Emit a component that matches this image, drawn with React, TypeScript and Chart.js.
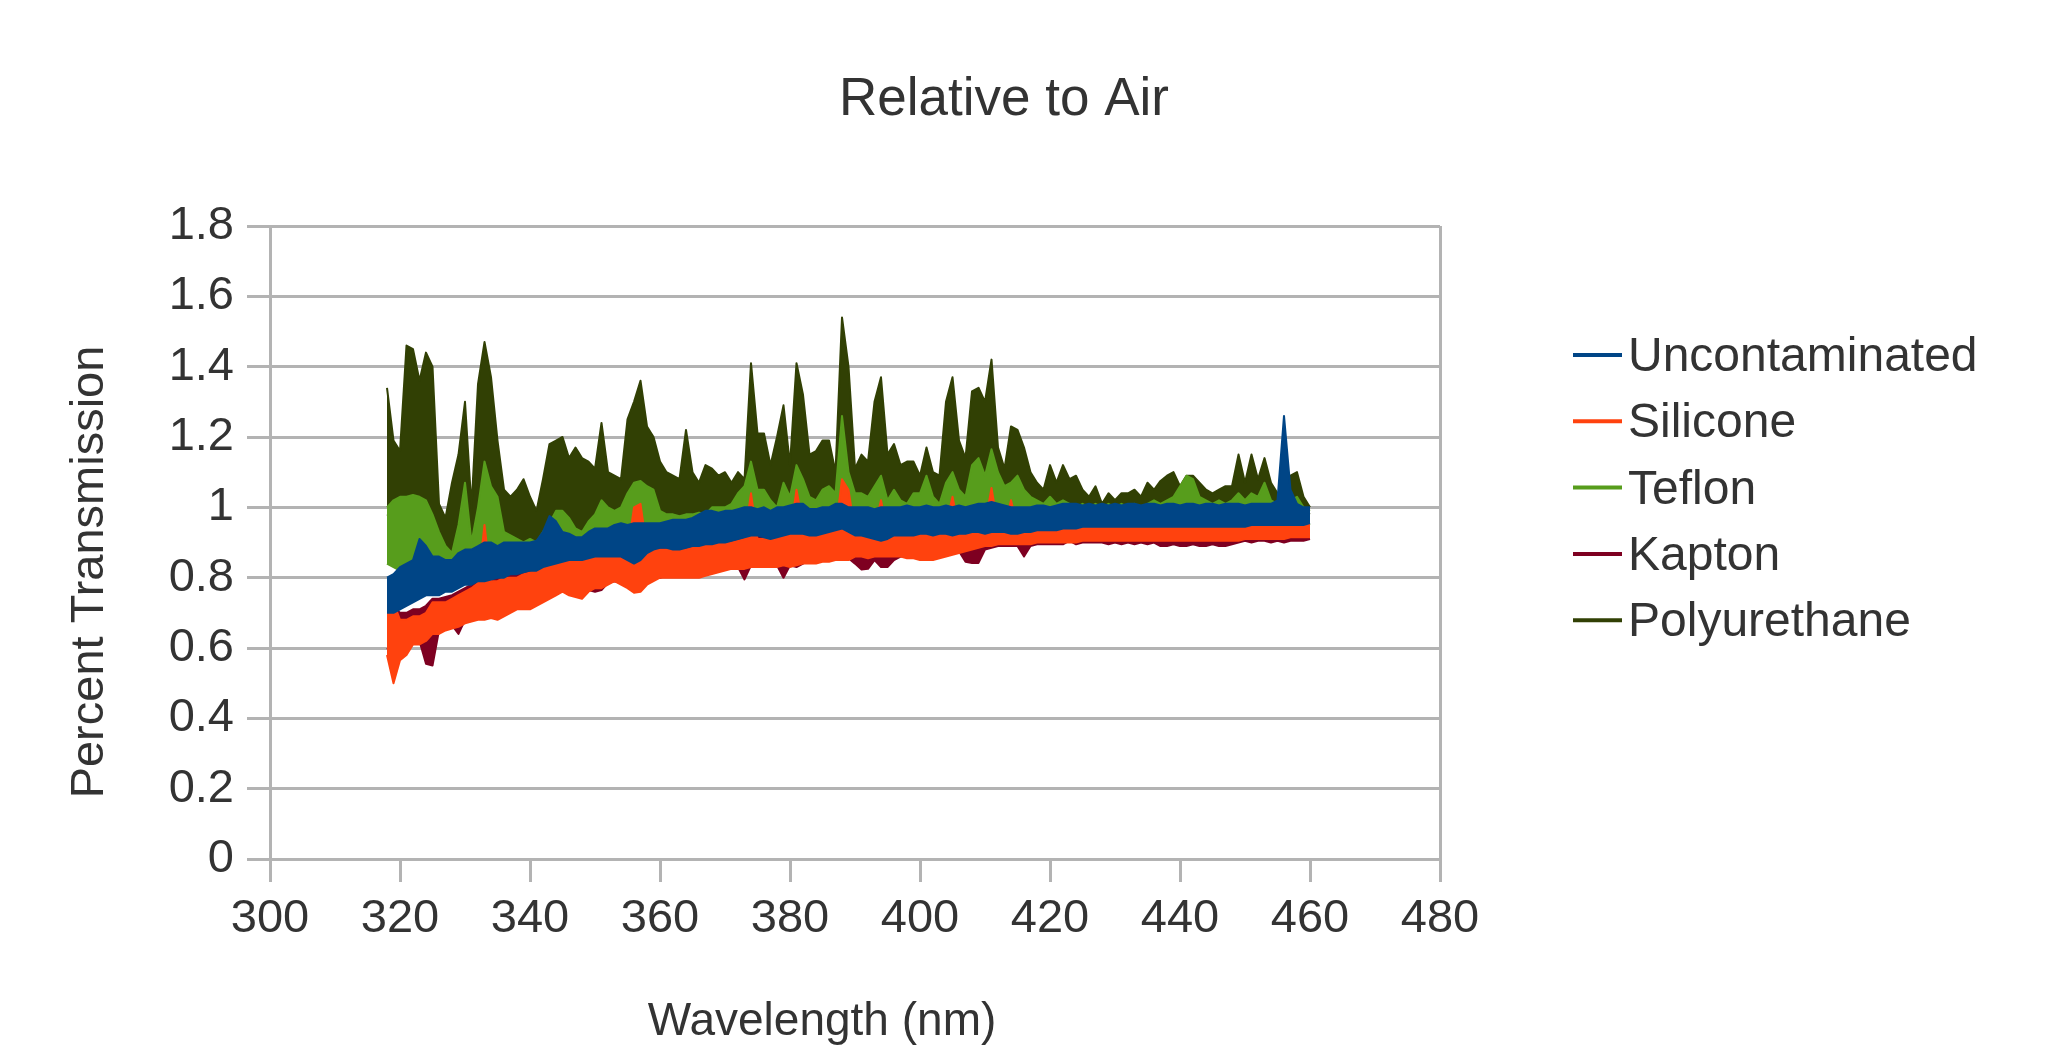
import { useEffect, useRef } from "react";
import { Chart, registerables } from "chart.js";

Chart.register(...registerables);

// ---------- data ----------
const START_NM = 318;
const TITLE = "Relative to Air";
const X_TITLE = "Wavelength (nm)";
const Y_TITLE = "Percent Transmission";
const SERIES_NAMES = ["Uncontaminated", "Silicone", "Teflon", "Kapton", "Polyurethane"];
const SERIES_COLORS = ["#004586", "#ff420e", "#579d1c", "#7e0021", "#314004"];
const X_TICK_LABELS = ["300", "320", "340", "360", "380", "400", "420", "440", "460", "480"];
const Y_TICK_LABELS = ["0", "0.2", "0.4", "0.6", "0.8", "1", "1.2", "1.4", "1.6", "1.8"];

// upper / lower edge of each noisy trace, 1 nm steps from 318 nm to 460 nm
const UNCONT_HI = [
  0.80, 0.81, 0.83, 0.84, 0.85, 0.91, 0.89, 0.86, 0.86, 0.85,
  0.85, 0.87, 0.88, 0.88, 0.89, 0.90, 0.90, 0.89, 0.90, 0.90,
  0.90, 0.90, 0.90, 0.905, 0.93, 0.975, 0.96, 0.93, 0.925, 0.915,
  0.915, 0.93, 0.94, 0.94, 0.94, 0.95, 0.955, 0.95, 0.955, 0.955,
  0.955, 0.955, 0.955, 0.96, 0.965, 0.965, 0.965, 0.97, 0.98, 0.99,
  0.99, 0.985, 0.99, 0.99, 0.995, 1.00, 1.00, 0.995, 1.00, 0.99,
  1.00, 1.00, 1.005, 1.01, 1.01, 0.995, 0.995, 1.00, 1.00, 1.01,
  1.01, 1.00, 1.00, 1.00, 1.00, 0.995, 1.00, 1.00, 1.00, 1.00,
  1.005, 1.00, 1.00, 1.005, 1.00, 1.00, 1.005, 1.00, 1.005, 1.00,
  1.005, 1.01, 1.01, 1.015, 1.01, 1.005, 1.00, 1.00, 1.00, 1.00,
  1.005, 1.005, 1.00, 1.005, 1.01, 1.01, 1.01, 1.005, 1.01, 1.005,
  1.01, 1.005, 1.01, 1.005, 1.01, 1.01, 1.005, 1.01, 1.01, 1.005,
  1.01, 1.01, 1.005, 1.01, 1.01, 1.005, 1.01, 1.01, 1.005, 1.01,
  1.01, 1.01, 1.005, 1.01, 1.01, 1.01, 1.01, 1.02, 1.26, 1.05,
  1.01, 1.00, 1.00,
];
const UNCONT_LO = [
  0.70, 0.70, 0.71, 0.72, 0.73, 0.74, 0.75, 0.75, 0.75, 0.76,
  0.76, 0.77, 0.78, 0.78, 0.79, 0.79, 0.795, 0.80, 0.80, 0.81,
  0.81, 0.815, 0.82, 0.82, 0.83, 0.835, 0.84, 0.845, 0.85, 0.85,
  0.85, 0.855, 0.86, 0.86, 0.86, 0.86, 0.86, 0.85, 0.84, 0.85,
  0.87, 0.88, 0.885, 0.885, 0.88, 0.88, 0.885, 0.89, 0.89, 0.895,
  0.895, 0.90, 0.90, 0.905, 0.91, 0.915, 0.92, 0.92, 0.915, 0.91,
  0.915, 0.92, 0.925, 0.925, 0.925, 0.92, 0.92, 0.925, 0.93, 0.935,
  0.94, 0.93, 0.92, 0.92, 0.915, 0.91, 0.905, 0.91, 0.92, 0.92,
  0.92, 0.92, 0.925, 0.925, 0.92, 0.925, 0.925, 0.92, 0.925, 0.925,
  0.93, 0.93, 0.925, 0.93, 0.93, 0.93, 0.925, 0.925, 0.93, 0.93,
  0.935, 0.935, 0.935, 0.935, 0.94, 0.94, 0.94, 0.945, 0.945, 0.945,
  0.945, 0.945, 0.945, 0.945, 0.945, 0.945, 0.945, 0.945, 0.945, 0.945,
  0.945, 0.945, 0.945, 0.945, 0.945, 0.945, 0.945, 0.945, 0.945, 0.945,
  0.945, 0.945, 0.945, 0.95, 0.95, 0.95, 0.95, 0.95, 0.95, 0.95,
  0.95, 0.95, 0.955,
];
const SILICONE_HI = [
  0.73, 0.73, 0.68, 0.68, 0.69, 0.69, 0.70, 0.73, 0.73, 0.73,
  0.74, 0.75, 0.76, 0.77, 0.785, 0.95, 0.79, 0.79, 0.80, 0.80,
  0.80, 0.81, 0.815, 0.82, 0.83, 0.84, 0.84, 0.85, 0.85, 0.85,
  0.85, 0.86, 0.86, 0.865, 0.87, 0.87, 0.86, 0.87, 1.00, 1.01,
  0.88, 0.88, 0.88, 0.88, 0.88, 0.88, 0.88, 0.885, 0.89, 0.89,
  0.895, 0.90, 0.90, 0.90, 0.905, 0.91, 1.04, 0.91, 0.91, 0.91,
  0.93, 0.94, 0.92, 1.05, 0.95, 0.92, 0.92, 0.925, 0.93, 0.93,
  1.08, 1.05, 0.93, 0.93, 0.93, 0.94, 1.02, 0.93, 0.93, 0.93,
  0.93, 0.93, 0.935, 0.935, 0.935, 0.94, 0.95, 1.03, 0.94, 0.94,
  0.94, 0.945, 0.95, 1.055, 0.945, 0.94, 1.02, 0.945, 0.945, 0.945,
  0.945, 0.945, 0.95, 0.95, 0.95, 0.95, 0.95, 0.955, 0.955, 0.955,
  0.955, 0.955, 0.955, 0.955, 0.955, 0.955, 0.955, 0.955, 0.955, 0.955,
  0.955, 0.955, 0.955, 0.955, 0.955, 0.955, 0.955, 0.955, 0.955, 0.955,
  0.955, 0.955, 0.955, 0.955, 0.96, 0.96, 0.96, 0.96, 0.96, 0.96,
  0.96, 0.96, 0.96,
];
const SILICONE_LO = [
  0.58, 0.50, 0.565, 0.58, 0.61, 0.61, 0.62, 0.64, 0.64, 0.65,
  0.655, 0.66, 0.67, 0.675, 0.68, 0.68, 0.685, 0.68, 0.69, 0.70,
  0.71, 0.71, 0.71, 0.72, 0.73, 0.74, 0.75, 0.76, 0.75, 0.745,
  0.74, 0.76, 0.77, 0.77, 0.78, 0.79, 0.78, 0.77, 0.757, 0.76,
  0.78, 0.79, 0.80, 0.80, 0.80, 0.80, 0.80, 0.80, 0.80, 0.805,
  0.81, 0.815, 0.82, 0.825, 0.825, 0.825, 0.83, 0.83, 0.83, 0.83,
  0.83, 0.835, 0.83, 0.835, 0.84, 0.84, 0.84, 0.845, 0.845, 0.85,
  0.85, 0.85, 0.86, 0.86, 0.855, 0.86, 0.86, 0.86, 0.86, 0.86,
  0.855, 0.855, 0.85, 0.85, 0.85, 0.855, 0.86, 0.865, 0.87, 0.875,
  0.88, 0.885, 0.89, 0.89, 0.895, 0.895, 0.895, 0.895, 0.895, 0.895,
  0.90, 0.90, 0.90, 0.90, 0.90, 0.90, 0.90, 0.905, 0.905, 0.905,
  0.905, 0.905, 0.905, 0.905, 0.905, 0.905, 0.905, 0.905, 0.905, 0.905,
  0.905, 0.905, 0.905, 0.905, 0.905, 0.905, 0.905, 0.905, 0.905, 0.905,
  0.905, 0.905, 0.91, 0.91, 0.91, 0.91, 0.91, 0.91, 0.91, 0.915,
  0.915, 0.915, 0.915,
];
const TEFLON_HI = [
  1.00, 1.02, 1.03, 1.03, 1.035, 1.03, 1.02, 0.98, 0.93, 0.89,
  0.87, 0.95, 1.07, 0.90, 1.00, 1.13, 1.06, 1.03, 0.93, 0.92,
  0.91, 0.90, 0.91, 0.90, 0.93, 0.955, 0.99, 0.99, 0.97, 0.94,
  0.93, 0.96, 0.98, 1.02, 1.00, 0.99, 1.00, 1.04, 1.07, 1.075,
  1.06, 1.05, 0.99, 0.98, 0.98, 0.975, 0.98, 0.98, 0.985, 0.98,
  1.00, 1.00, 1.00, 1.01, 1.04, 1.06, 1.13, 1.05, 1.05, 1.02,
  1.00, 1.07, 1.03, 1.12, 1.08, 1.03, 1.02, 1.05, 1.06, 1.04,
  1.26, 1.10, 1.04, 1.04, 1.03, 1.06, 1.09, 1.02, 1.05, 1.02,
  1.01, 1.04, 1.04, 1.09, 1.03, 1.01, 1.07, 1.10, 1.05, 1.03,
  1.12, 1.14, 1.09, 1.165, 1.10, 1.06, 1.07, 1.09, 1.05, 1.03,
  1.02, 1.01, 1.03, 1.01, 1.02, 1.01, 1.00, 1.01, 1.00, 1.01,
  1.00, 1.01, 1.00, 1.01, 1.00, 1.01, 1.00, 1.01, 1.02, 1.01,
  1.02, 1.03, 1.06, 1.09, 1.08, 1.03, 1.02, 1.01, 1.02, 1.01,
  1.02, 1.04, 1.02, 1.04, 1.03, 1.07, 1.02, 1.01, 1.00, 1.02,
  1.03, 1.00, 0.99,
];
const TEFLON_LO = [
  0.84, 0.83, 0.82, 0.83, 0.84, 0.85, 0.85, 0.83, 0.82, 0.82,
  0.82, 0.83, 0.84, 0.84, 0.85, 0.86, 0.86, 0.85, 0.86, 0.86,
  0.86, 0.86, 0.86, 0.87, 0.89, 0.93, 0.92, 0.89, 0.88, 0.87,
  0.87, 0.89, 0.90, 0.90, 0.90, 0.91, 0.91, 0.91, 0.91, 0.91,
  0.91, 0.91, 0.91, 0.92, 0.92, 0.92, 0.92, 0.93, 0.94, 0.95,
  0.95, 0.94, 0.95, 0.95, 0.95, 0.96, 0.96, 0.95, 0.96, 0.95,
  0.96, 0.96, 0.96, 0.97, 0.97, 0.95, 0.95, 0.96, 0.96, 0.97,
  0.97, 0.96, 0.96, 0.96, 0.96, 0.95, 0.96, 0.96, 0.96, 0.96,
  0.96, 0.96, 0.96, 0.96, 0.96, 0.96, 0.96, 0.96, 0.96, 0.96,
  0.96, 0.97, 0.97, 0.97, 0.97, 0.96, 0.96, 0.96, 0.96, 0.96,
  0.96, 0.96, 0.96, 0.96, 0.97, 0.97, 0.97, 0.96, 0.96, 0.96,
  0.96, 0.96, 0.96, 0.96, 0.96, 0.96, 0.96, 0.96, 0.96, 0.96,
  0.96, 0.96, 0.96, 0.97, 0.97, 0.96, 0.96, 0.96, 0.96, 0.96,
  0.96, 0.96, 0.96, 0.96, 0.96, 0.96, 0.96, 0.96, 0.96, 0.97,
  0.96, 0.96, 0.95,
];
const KAPTON_HI = [
  0.72, 0.72, 0.70, 0.70, 0.71, 0.71, 0.72, 0.74, 0.74, 0.745,
  0.75, 0.76, 0.77, 0.78, 0.795, 0.80, 0.80, 0.80, 0.81, 0.81,
  0.81, 0.82, 0.825, 0.83, 0.84, 0.85, 0.85, 0.86, 0.86, 0.86,
  0.86, 0.87, 0.87, 0.875, 0.88, 0.88, 0.87, 0.88, 0.89, 0.89,
  0.89, 0.89, 0.89, 0.89, 0.89, 0.89, 0.89, 0.895, 0.90, 0.90,
  0.905, 0.91, 0.91, 0.91, 0.915, 0.92, 0.92, 0.92, 0.92, 0.92,
  0.93, 0.935, 0.93, 0.935, 0.935, 0.93, 0.93, 0.935, 0.94, 0.94,
  0.94, 0.94, 0.94, 0.94, 0.94, 0.945, 0.945, 0.94, 0.94, 0.94,
  0.94, 0.94, 0.945, 0.945, 0.945, 0.95, 0.955, 0.95, 0.95, 0.95,
  0.95, 0.955, 0.96, 0.955, 0.955, 0.95, 0.955, 0.955, 0.955, 0.955,
  0.955, 0.955, 0.96, 0.96, 0.96, 0.96, 0.96, 0.965, 0.965, 0.965,
  0.965, 0.965, 0.965, 0.965, 0.965, 0.965, 0.965, 0.965, 0.965, 0.965,
  0.965, 0.965, 0.965, 0.965, 0.965, 0.965, 0.965, 0.965, 0.965, 0.965,
  0.965, 0.965, 0.965, 0.965, 0.97, 0.97, 0.97, 0.97, 0.97, 0.97,
  0.97, 0.97, 0.97,
];
const KAPTON_LO = [
  0.60, 0.58, 0.59, 0.60, 0.62, 0.62, 0.555, 0.55, 0.65, 0.66,
  0.665, 0.64, 0.68, 0.685, 0.69, 0.69, 0.695, 0.69, 0.70, 0.71,
  0.72, 0.72, 0.72, 0.73, 0.74, 0.75, 0.76, 0.765, 0.76, 0.755,
  0.75, 0.765, 0.76, 0.765, 0.785, 0.79, 0.785, 0.78, 0.77, 0.77,
  0.785, 0.80, 0.80, 0.805, 0.805, 0.805, 0.805, 0.805, 0.805, 0.81,
  0.815, 0.828, 0.825, 0.83, 0.83, 0.795, 0.835, 0.835, 0.842, 0.835,
  0.835, 0.80, 0.835, 0.83, 0.84, 0.85, 0.845, 0.85, 0.85, 0.855,
  0.855, 0.855, 0.84, 0.823, 0.825, 0.85, 0.83, 0.83, 0.85, 0.86,
  0.86, 0.86, 0.855, 0.86, 0.855, 0.86, 0.865, 0.87, 0.875, 0.845,
  0.842, 0.842, 0.88, 0.885, 0.89, 0.89, 0.89, 0.89, 0.86, 0.89,
  0.895, 0.895, 0.895, 0.895, 0.895, 0.905, 0.895, 0.90, 0.90, 0.90,
  0.90, 0.895, 0.90, 0.895, 0.90, 0.895, 0.90, 0.895, 0.90, 0.89,
  0.89, 0.895, 0.89, 0.89, 0.895, 0.89, 0.89, 0.895, 0.89, 0.89,
  0.895, 0.90, 0.905, 0.90, 0.905, 0.905, 0.90, 0.905, 0.90, 0.905,
  0.905, 0.905, 0.91,
];
const POLY_HI = [
  1.34, 1.19, 1.16, 1.46, 1.45, 1.36, 1.44, 1.40, 1.01, 0.97,
  1.07, 1.15, 1.30, 1.00, 1.35, 1.47, 1.37, 1.19, 1.05, 1.03,
  1.05, 1.08, 1.03, 0.99, 1.08, 1.18, 1.19, 1.20, 1.14, 1.17,
  1.14, 1.13, 1.11, 1.24, 1.10, 1.09, 1.08, 1.25, 1.30, 1.36,
  1.23, 1.20, 1.13, 1.10, 1.09, 1.08, 1.22, 1.10, 1.07, 1.12,
  1.11, 1.09, 1.10, 1.07, 1.10, 1.08, 1.41, 1.21, 1.21, 1.12,
  1.20, 1.29, 1.12, 1.41, 1.32, 1.15, 1.16, 1.19, 1.19, 1.10,
  1.54, 1.40, 1.11, 1.15, 1.13, 1.30, 1.37, 1.15, 1.18, 1.12,
  1.13, 1.13, 1.09, 1.17, 1.10, 1.09, 1.30, 1.37, 1.19, 1.14,
  1.33, 1.34, 1.30, 1.42, 1.17, 1.11, 1.23, 1.22, 1.17, 1.10,
  1.07, 1.05, 1.12, 1.07, 1.12, 1.08, 1.09, 1.05, 1.03, 1.06,
  1.01, 1.04, 1.02, 1.04, 1.04, 1.05, 1.03, 1.07, 1.05, 1.075,
  1.09, 1.10, 1.06, 1.09, 1.09, 1.07, 1.05, 1.04, 1.05, 1.06,
  1.06, 1.15, 1.07, 1.15, 1.08, 1.14, 1.07, 1.04, 1.03, 1.09,
  1.10, 1.03, 1.00,
];
const POLY_LO = [
  0.98, 0.97, 0.98, 0.99, 0.99, 0.98, 0.97, 0.94, 0.90, 0.87,
  0.86, 0.90, 0.93, 0.89, 0.95, 0.98, 0.97, 0.96, 0.92, 0.91,
  0.91, 0.90, 0.90, 0.89, 0.92, 0.94, 0.96, 0.96, 0.94, 0.93,
  0.93, 0.94, 0.95, 0.96, 0.96, 0.96, 0.97, 0.98, 0.99, 1.00,
  0.99, 0.98, 0.97, 0.97, 0.97, 0.97, 0.97, 0.97, 0.98, 0.98,
  0.99, 0.99, 0.99, 1.00, 1.00, 1.00, 1.01, 1.00, 1.00, 0.99,
  1.00, 1.01, 1.01, 1.02, 1.02, 1.00, 1.00, 1.01, 1.01, 1.01,
  1.02, 1.01, 1.01, 1.01, 1.01, 1.01, 1.02, 1.01, 1.01, 1.01,
  1.00, 1.01, 1.01, 1.02, 1.01, 1.00, 1.02, 1.02, 1.01, 1.01,
  1.02, 1.02, 1.02, 1.03, 1.02, 1.01, 1.01, 1.02, 1.01, 1.01,
  1.00, 1.00, 1.01, 1.00, 1.01, 1.00, 1.00, 1.00, 0.99, 1.00,
  0.99, 1.00, 0.99, 1.00, 0.99, 1.00, 0.99, 1.00, 1.00, 1.00,
  1.00, 1.01, 1.01, 1.02, 1.02, 1.01, 1.00, 1.00, 1.00, 1.00,
  1.00, 1.01, 1.00, 1.01, 1.00, 1.01, 1.00, 1.00, 0.99, 1.00,
  1.00, 0.99, 0.98,
];

const WAVELENGTHS = UNCONT_HI.map((_, i) => START_NM + i);

const SERIES_HI = [UNCONT_HI, SILICONE_HI, TEFLON_HI, KAPTON_HI, POLY_HI];
const SERIES_LO = [UNCONT_LO, SILICONE_LO, TEFLON_LO, KAPTON_LO, POLY_LO];

const toPoints = (vals: number[]) => vals.map((v, i) => ({ x: WAVELENGTHS[i], y: v }));

const FONT = '"Liberation Sans", Arial, sans-serif';
const TEXT_COLOR = "#333333";
const GRID = "#b3b3b3";

const textPlugin = {
  id: "texts",
  afterDraw(chart: any) {
    const ctx = chart.ctx as CanvasRenderingContext2D;
    ctx.save();
    ctx.fillStyle = TEXT_COLOR;
    ctx.textBaseline = "alphabetic";
    ctx.textAlign = "center";
    ctx.font = `53px ${FONT}`;
    ctx.fillText(TITLE, 1004, 115);
    ctx.font = `46px ${FONT}`;
    ctx.fillText(X_TITLE, 822, 1035);
    ctx.save();
    ctx.translate(103, 572);
    ctx.rotate(-Math.PI / 2);
    ctx.font = `47px ${FONT}`;
    ctx.fillText(Y_TITLE, 0, 0);
    ctx.restore();
    // legend
    ctx.textAlign = "left";
    ctx.font = `48px ${FONT}`;
    SERIES_NAMES.forEach((name, i) => {
      const y = 355 + i * 66.3;
      ctx.strokeStyle = SERIES_COLORS[i];
      ctx.lineWidth = 4;
      ctx.beginPath();
      ctx.moveTo(1573, y);
      ctx.lineTo(1622, y);
      ctx.stroke();
      ctx.fillStyle = TEXT_COLOR;
      ctx.fillText(name, 1628, y + 16);
    });
    ctx.restore();
  },
};

function buildDatasets() {
  const sets: any[] = [];
  SERIES_NAMES.forEach((name, i) => {
    // upper edge of the noisy trace, filled down to its lower edge (next dataset)
    sets.push({
      label: name,
      data: toPoints(SERIES_HI[i]),
      borderColor: SERIES_COLORS[i],
      backgroundColor: SERIES_COLORS[i],
      borderWidth: 2,
      borderJoinStyle: "round",
      pointRadius: 0,
      tension: 0,
      fill: "+1",
    });
    sets.push({
      label: name + " (lower edge)",
      data: toPoints(SERIES_LO[i]),
      borderColor: SERIES_COLORS[i],
      backgroundColor: SERIES_COLORS[i],
      borderWidth: 2,
      borderJoinStyle: "round",
      pointRadius: 0,
      tension: 0,
      fill: false,
    });
  });
  return sets;
}

export default function App() {
  const ref = useRef<HTMLCanvasElement | null>(null);
  useEffect(() => {
    document.body.style.margin = "0";
    const canvas = ref.current;
    if (!canvas) return;
    const chart = new Chart(canvas, {
      type: "line",
      data: { datasets: buildDatasets() },
      options: {
        responsive: false,
        devicePixelRatio: 1,
        animation: false,
        events: [],
        layout: { padding: { left: 0, right: 625, top: 226, bottom: 94 } },
        plugins: {
          legend: { display: false },
          title: { display: false },
          tooltip: { enabled: false },
          filler: { propagate: false },
        },
        scales: {
          x: {
            type: "linear",
            min: 300,
            max: 480,
            afterFit: (s: any) => {
              s.height = 100;
            },
            ticks: {
              stepSize: 20,
              padding: 9,
              color: TEXT_COLOR,
              font: { family: FONT, size: 47 },
              maxRotation: 0,
              callback: (_v: any, i: number) => X_TICK_LABELS[i],
            },
            grid: {
              color: (c: any) => (c.tick && c.tick.value === 480 ? GRID : "rgba(0,0,0,0)"),
              tickColor: GRID,
              lineWidth: 3,
              tickWidth: 3,
              tickLength: 23,
            },
            border: { display: true, color: GRID, width: 3 },
          },
          y: {
            type: "linear",
            min: 0,
            max: 1.8,
            afterFit: (s: any) => {
              s.width = 270;
            },
            ticks: {
              stepSize: 0.2,
              padding: 13,
              color: TEXT_COLOR,
              font: { family: FONT, size: 47 },
              callback: (_v: any, i: number) => Y_TICK_LABELS[i],
            },
            grid: {
              color: GRID,
              tickColor: GRID,
              lineWidth: 3,
              tickWidth: 3,
              tickLength: 23,
            },
            border: { display: true, color: GRID, width: 3 },
          },
        },
      },
      plugins: [textPlugin],
    });
    return () => chart.destroy();
  }, []);
  return (
    <canvas
      ref={ref}
      width={2065}
      height={1053}
      style={{ display: "block", width: "2065px", height: "1053px" }}
    />
  );
}
